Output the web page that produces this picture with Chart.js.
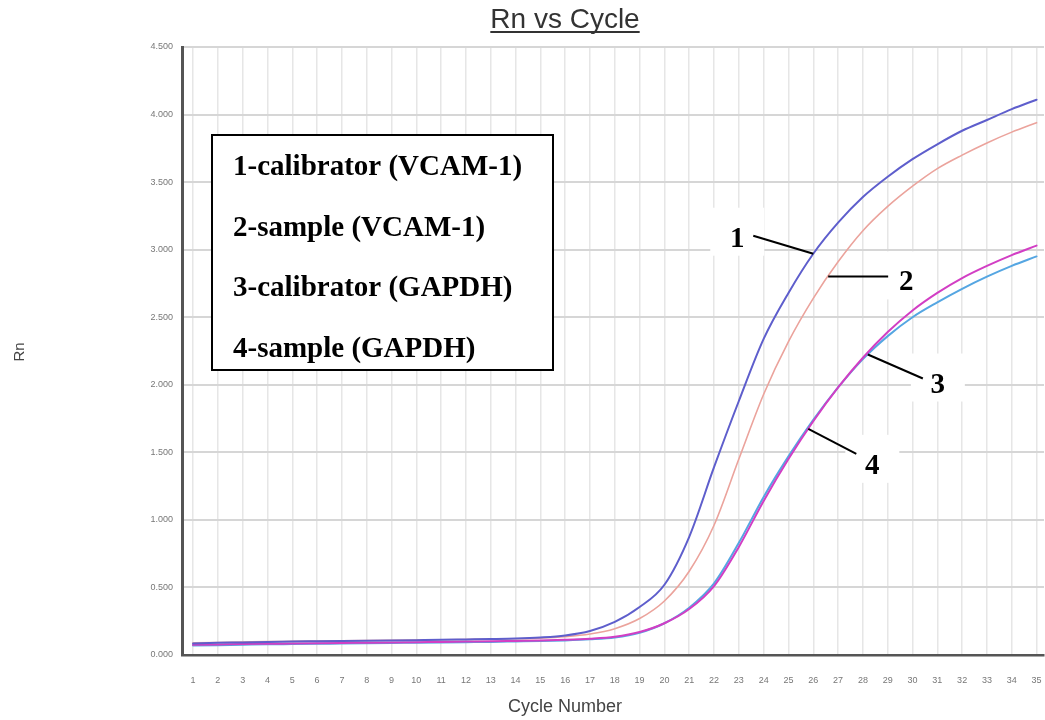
<!DOCTYPE html>
<html>
<head>
<meta charset="utf-8">
<title>Rn vs Cycle</title>
<script src="https://cdn.jsdelivr.net/npm/chart.js@4.4.1/dist/chart.umd.min.js"></script>
<style>
  html, body { margin: 0; padding: 0; background: #ffffff; }
  canvas { display: block; }
</style>
</head>
<body>
<canvas id="rnChart" width="1045" height="720"></canvas>
<script>
// Amplification cycles
const cycles = [1, 2, 3, 4, 5, 6, 7, 8, 9, 10, 11, 12, 13, 14, 15, 16, 17, 18,
  19, 20, 21, 22, 23, 24, 25, 26, 27, 28, 29, 30, 31, 32, 33, 34, 35];

// Normalised reporter signal (Rn) per cycle
const vcamCalibrator = [0.085, 0.090, 0.093, 0.097, 0.100, 0.102, 0.104, 0.106, 0.108, 0.110,
  0.112, 0.115, 0.118, 0.122, 0.130, 0.145, 0.178, 0.245, 0.355, 0.520,
  0.875, 1.390, 1.880, 2.340, 2.680, 2.970, 3.200, 3.390, 3.540, 3.670,
  3.780, 3.880, 3.960, 4.040, 4.110];
const vcamSample = [0.090, 0.093, 0.096, 0.099, 0.101, 0.103, 0.105, 0.107, 0.109, 0.111,
  0.113, 0.115, 0.117, 0.120, 0.125, 0.135, 0.155, 0.195, 0.270, 0.400,
  0.620, 0.960, 1.450, 1.930, 2.320, 2.640, 2.910, 3.140, 3.320, 3.470,
  3.600, 3.700, 3.790, 3.870, 3.940];
const gapdhCalibrator = [0.070, 0.073, 0.076, 0.079, 0.081, 0.083, 0.085, 0.087, 0.089, 0.091,
  0.093, 0.095, 0.097, 0.100, 0.103, 0.108, 0.116, 0.130, 0.165, 0.235,
  0.350, 0.530, 0.830, 1.170, 1.470, 1.740, 1.980, 2.190, 2.360, 2.500,
  2.610, 2.710, 2.800, 2.880, 2.950];
const gapdhSample = [0.075, 0.078, 0.081, 0.083, 0.085, 0.087, 0.089, 0.091, 0.093, 0.095,
  0.097, 0.099, 0.101, 0.104, 0.107, 0.112, 0.120, 0.135, 0.170, 0.235,
  0.340, 0.510, 0.800, 1.140, 1.450, 1.730, 1.980, 2.200, 2.390, 2.550,
  2.680, 2.790, 2.880, 2.960, 3.030];

const seriesNames = ['1-calibrator (VCAM-1)', '2-sample (VCAM-1)', '3-calibrator (GAPDH)', '4-sample (GAPDH)'];
const yTickValues = [0, 0.5, 1, 1.5, 2, 2.5, 3, 3.5, 4, 4.5];

const chartTitle = 'Rn vs Cycle';
const xTitle = 'Cycle Number';
const yTitle = 'Rn';

const toPoints = arr => cycles.map((c, i) => ({ x: c, y: arr[i] }));

// Rn of a series at a (possibly fractional) cycle
function rnAt(series, cycle) {
  const i = Math.max(0, Math.min(cycles.length - 2, Math.floor(cycle) - cycles[0]));
  const t = cycle - cycles[i];
  return series[i] + (series[i + 1] - series[i]) * t;
}

// Numbered call-outs pointing at the curves
const callouts = [
  { text: '1', series: vcamCalibrator, cycle: 26.0, lineTo: [-60, -18], label: [-76, -17] },
  { text: '2', series: vcamSample, cycle: 26.6, lineTo: [60, 0], label: [78, 4] },
  { text: '3', series: gapdhCalibrator, cycle: 28.2, lineTo: [55, 24], label: [70, 28] },
  { text: '4', series: gapdhSample, cycle: 25.8, lineTo: [48, 25], label: [64, 35] }
];

function calloutGeometry(chart, c) {
  const ax = chart.scales.x.getPixelForValue(c.cycle);
  const ay = chart.scales.y.getPixelForValue(rnAt(c.series, c.cycle));
  return { ax, ay, lx: ax + c.label[0], ly: ay + c.label[1] };
}

const decorations = {
  id: 'decorations',
  // white patches behind the call-out numbers sit under the curves
  beforeDatasetsDraw(chart) {
    const ctx = chart.ctx;
    ctx.save();
    ctx.fillStyle = '#ffffff';
    callouts.forEach(c => {
      const g = calloutGeometry(chart, c);
      ctx.fillRect(g.lx - 27, g.ly - 29, 54, 48);
    });
    ctx.restore();
  },
  afterDraw(chart) {
    const ctx = chart.ctx;
    ctx.save();

    // Title with underline
    ctx.fillStyle = '#333333';
    ctx.font = '28px "Liberation Sans", Arial, sans-serif';
    ctx.textAlign = 'center';
    ctx.textBaseline = 'alphabetic';
    const tcx = 565;
    ctx.fillText(chartTitle, tcx, 28);
    const tw = ctx.measureText(chartTitle).width;
    ctx.fillRect(tcx - tw / 2, 31, tw, 2);

    // Axis titles
    ctx.fillStyle = '#444444';
    ctx.font = '18px "Liberation Sans", Arial, sans-serif';
    ctx.fillText(xTitle, 565, 712);
    ctx.save();
    ctx.translate(24, 352);
    ctx.rotate(-Math.PI / 2);
    ctx.font = '15px "Liberation Sans", Arial, sans-serif';
    ctx.fillText(yTitle, 0, 0);
    ctx.restore();

    // Key box
    ctx.fillStyle = '#ffffff';
    ctx.fillRect(212, 135, 341, 235);
    ctx.strokeStyle = '#000000';
    ctx.lineWidth = 2;
    ctx.strokeRect(212, 135, 341, 235);
    ctx.fillStyle = '#000000';
    ctx.font = 'bold 29px "Liberation Serif", "Times New Roman", serif';
    ctx.textAlign = 'left';
    seriesNames.forEach((name, i) => ctx.fillText(name, 233, 175 + i * 60.7));

    // Call-out leaders and numbers
    callouts.forEach(c => {
      const g = calloutGeometry(chart, c);
      ctx.strokeStyle = '#000000';
      ctx.lineWidth = 2;
      ctx.beginPath();
      ctx.moveTo(g.ax, g.ay);
      ctx.lineTo(g.ax + c.lineTo[0], g.ay + c.lineTo[1]);
      ctx.stroke();
      ctx.fillStyle = '#000000';
      ctx.textAlign = 'center';
      ctx.fillText(c.text, g.lx, g.ly + 10);
    });

    ctx.restore();
  }
};

const tickFont = { family: '"Liberation Sans", Arial, sans-serif', size: 9 };

new Chart(document.getElementById('rnChart'), {
  type: 'line',
  data: {
    datasets: [
      { label: seriesNames[0], data: toPoints(vcamCalibrator), borderColor: '#5e5ecc', borderWidth: 2, order: 0 },
      { label: seriesNames[1], data: toPoints(vcamSample), borderColor: '#eba39c', borderWidth: 1.6, order: 1 },
      { label: seriesNames[2], data: toPoints(gapdhCalibrator), borderColor: '#55a6e2', borderWidth: 2, order: 3 },
      { label: seriesNames[3], data: toPoints(gapdhSample), borderColor: '#d23ec4', borderWidth: 2, order: 2 }
    ]
  },
  options: {
    responsive: false,
    animation: false,
    devicePixelRatio: 1,
    layout: { padding: { top: 47, right: 1, left: 0, bottom: 0 } },
    plugins: {
      legend: { display: false },
      tooltip: { enabled: false },
      title: { display: false }
    },
    elements: {
      point: { radius: 0 },
      line: { cubicInterpolationMode: 'monotone', fill: false, borderCapStyle: 'round', borderJoinStyle: 'round' }
    },
    scales: {
      x: {
        type: 'linear',
        min: 0.555,
        max: 35.3,
        afterBuildTicks: s => { s.ticks = cycles.map(v => ({ value: v })); },
        afterFit: s => { s.height = 65; s.paddingLeft = 0; s.paddingRight = 0; },
        grid: { color: '#e6e6e6', lineWidth: 1.5, drawTicks: false },
        border: { color: '#555555', width: 2.5 },
        ticks: { padding: 20, font: tickFont, color: '#777777', autoSkip: false, maxRotation: 0,
          callback: v => String(v) }
      },
      y: {
        min: 0,
        max: 4.5,
        afterBuildTicks: s => { s.ticks = yTickValues.map(v => ({ value: v })); },
        afterFit: s => { s.width = 182; s.paddingTop = 0; s.paddingBottom = 0; },
        grid: { color: '#d6d6d6', lineWidth: 2, drawTicks: false },
        border: { color: '#555555', width: 3 },
        ticks: { padding: 9, font: tickFont, color: '#777777', callback: v => Number(v).toFixed(3) }
      }
    }
  },
  plugins: [decorations]
});
</script>
</body>
</html>
